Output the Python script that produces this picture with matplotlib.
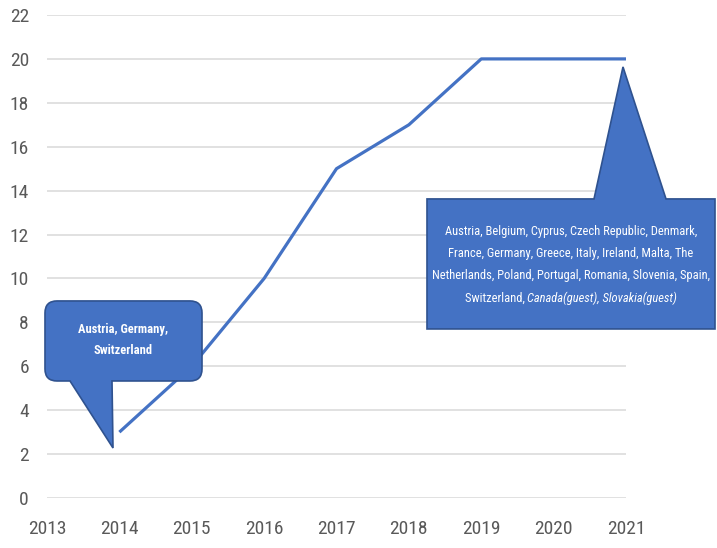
import numpy as np
import matplotlib.pyplot as plt
from matplotlib.path import Path
from matplotlib.patches import PathPatch
from matplotlib.transforms import ScaledTranslation

# dati della serie
anni = [2014, 2015, 2016, 2017, 2018, 2019, 2020, 2021]
valori = [3, 6, 10, 15, 17, 20, 20, 20]
tick_x = list(range(2013, 2022))
tick_y = list(range(0, 23, 2))

testo_1 = ['Austria, Germany,', 'Switzerland']
testo_2 = ['Austria, Belgium, Cyprus, Czech Republic, Denmark,',
           'France, Germany, Greece, Italy, Ireland, Malta, The',
           'Netherlands, Poland, Portugal, Romania, Slovenia, Spain,']
testo_2_fine = 'Switzerland, '
testo_2_corsivo = 'Canada(guest), Slovakia(guest)'

blu = '#4472C4'
bordo = '#2F528F'
grigio = '#595959'
plt.rcParams['font.family'] = ['Roboto Condensed', 'DejaVu Sans']

fig = plt.figure(figsize=(7.17, 5.48), dpi=100)
ax = fig.add_axes([47/717, 1-498/548, (626-47)/717, (498-15)/548])
ax.plot(anni, valori, color=blu, lw=2.3, solid_capstyle='butt', zorder=3)
ax.set_xlim(2013, 2021)
ax.set_ylim(0, 22)
ax.set_xticks(tick_x)
ax.set_yticks(tick_y)
ax.grid(axis='y', color='#D9D9D9', lw=1.1)
ax.set_axisbelow(True)
for s in ax.spines.values():
    s.set_visible(False)
ax.tick_params(length=0, labelsize=14, labelcolor=grigio)
ax.tick_params(axis='y', pad=13)
ax.tick_params(axis='x', pad=16)

# conversione pixel -> dati per i callout
sx = 1/72.375
sy = 1/21.95
def px(x, y):
    return 2013 + (x-47)*sx, (498-y)*sy

def callout(x0, y0, x1, y1, b0, b1, punta, r, basso):
    # x0,y0 alto-sinistra ; x1,y1 basso-destra (pixel)
    L, T = px(x0, y0)
    R, B = px(x1, y1)
    rx, ry = r*sx, r*sy
    p0x = px(b0, 0)[0]
    p1x = px(b1, 0)[0]
    tp = px(*punta)
    v = [(L+rx, T)]
    c = [Path.MOVETO]
    if not basso:
        v += [(p0x, T), tp, (p1x, T)]
        c += [Path.LINETO]*3
    v += [(R-rx, T), (R, T), (R, T-ry), (R, B+ry), (R, B), (R-rx, B)]
    c += [Path.LINETO, Path.CURVE3, Path.CURVE3, Path.LINETO, Path.CURVE3, Path.CURVE3]
    if basso:
        v += [(p1x, B), tp, (p0x, B)]
        c += [Path.LINETO]*3
    v += [(L+rx, B), (L, B), (L, B+ry), (L, T-ry), (L, T), (L+rx, T), (L+rx, T)]
    c += [Path.LINETO, Path.CURVE3, Path.CURVE3, Path.LINETO, Path.CURVE3, Path.CURVE3, Path.CLOSEPOLY]
    ax.add_patch(PathPatch(Path(v, c), facecolor=blu, edgecolor=bordo, lw=1.2,
                           clip_on=False, zorder=5))

callout(45, 301, 202, 381, 70, 112, (113, 448), 12, True)
callout(427, 199, 715, 329, 594, 666, (623, 67), 0, False)

for i, riga in enumerate(testo_1):
    x, y = px(123.5, 330 + i*21)
    ax.text(x, y, riga, color='white', fontsize=9, fontweight='bold',
            ha='center', va='center', zorder=6)

for i, riga in enumerate(testo_2):
    x, y = px(571, 232 + i*22)
    ax.text(x, y, riga, color='white', fontsize=9, ha='center', va='center', zorder=6)

x, y = px(571, 298)
t1 = ax.text(x, y, testo_2_fine, color='white', fontsize=9, ha='left', va='center', zorder=6)
t2 = ax.annotate(testo_2_corsivo, xy=(1, 0.5), xycoords=t1, color='white', fontsize=9,
                 style='italic', ha='left', va='center', zorder=6)
fig.canvas.draw()
w = t1.get_window_extent().width + t2.get_window_extent().width
t1.set_transform(ax.transData + ScaledTranslation(-w/2/fig.dpi, 0, fig.dpi_scale_trans))

fig.savefig('out.png', dpi=100)
